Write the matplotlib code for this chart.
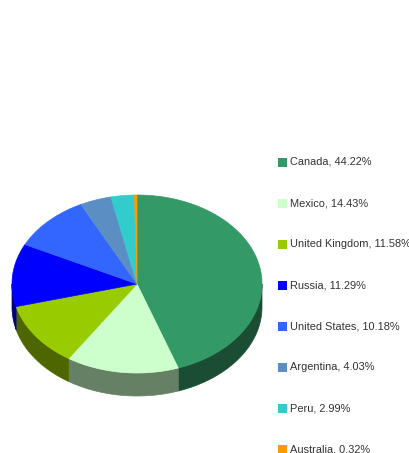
import matplotlib.pyplot as plt
import numpy as np
from matplotlib.patches import Polygon, Rectangle

# data
countries = ['Canada', 'Mexico', 'United Kingdom', 'Russia', 'United States',
             'Argentina', 'Peru', 'Australia']
shares = [44.22, 14.43, 11.58, 11.29, 10.18, 4.03, 2.99, 0.32]
colors = ['#339966', '#ccffcc', '#99cc00', '#0000ff', '#3366ff',
          '#5b8fc3', '#33cccc', '#ff9900']

W, H = 410, 453
fig = plt.figure(figsize=(W / 100, H / 100), dpi=100)
ax = fig.add_axes([0, 0, 1, 1])
ax.set_xlim(0, W)
ax.set_ylim(0, H)
ax.axis('off')

# pie geometry (pixels)
cx, cy = 137, H - 284
rx, ry = 125, 89
depth = 23

def darker(c, f=0.5):
    r, g, b = [int(c[i:i + 2], 16) / 255 for i in (1, 3, 5)]
    return (r * f, g * f, b * f)

vals = np.array(shares)
frac = vals / vals.sum()
ends = 90 - np.cumsum(frac) * 360
starts = np.concatenate([[90], ends[:-1]])

# side walls (front half only)
for a0, a1, col in zip(starts, ends, colors):
    lo, hi = max(a1, -180), min(a0, 0)
    if hi <= lo:
        continue
    t = np.radians(np.linspace(lo, hi, 80))
    xs = cx + rx * np.cos(t)
    ys = cy + ry * np.sin(t)
    pts = np.column_stack([np.concatenate([xs, xs[::-1]]),
                           np.concatenate([ys, ys[::-1] - depth])])
    ax.add_patch(Polygon(pts, closed=True, facecolor=darker(col),
                         edgecolor=darker(col), linewidth=0.5))

# top face
for a0, a1, col in zip(starts, ends, colors):
    t = np.radians(np.linspace(a0, a1, 120))
    xs = cx + rx * np.cos(t)
    ys = cy + ry * np.sin(t)
    pts = np.column_stack([np.concatenate([[cx], xs]),
                           np.concatenate([[cy], ys])])
    ax.add_patch(Polygon(pts, closed=True, facecolor=col,
                         edgecolor=col, linewidth=0.5))

# legend
ly0 = H - 162
for i, (name, v, col) in enumerate(zip(countries, shares, colors)):
    y = ly0 - i * 41.1
    ax.add_patch(Rectangle((278, y - 4.5), 9, 9, facecolor=col, edgecolor='none'))
    ax.text(290, y, f'{name}, {v:.2f}%', fontsize=7.9,
            family=['Liberation Sans', 'DejaVu Sans'],
            color='#333333', va='center', ha='left')

fig.savefig('out.png', dpi=100)
